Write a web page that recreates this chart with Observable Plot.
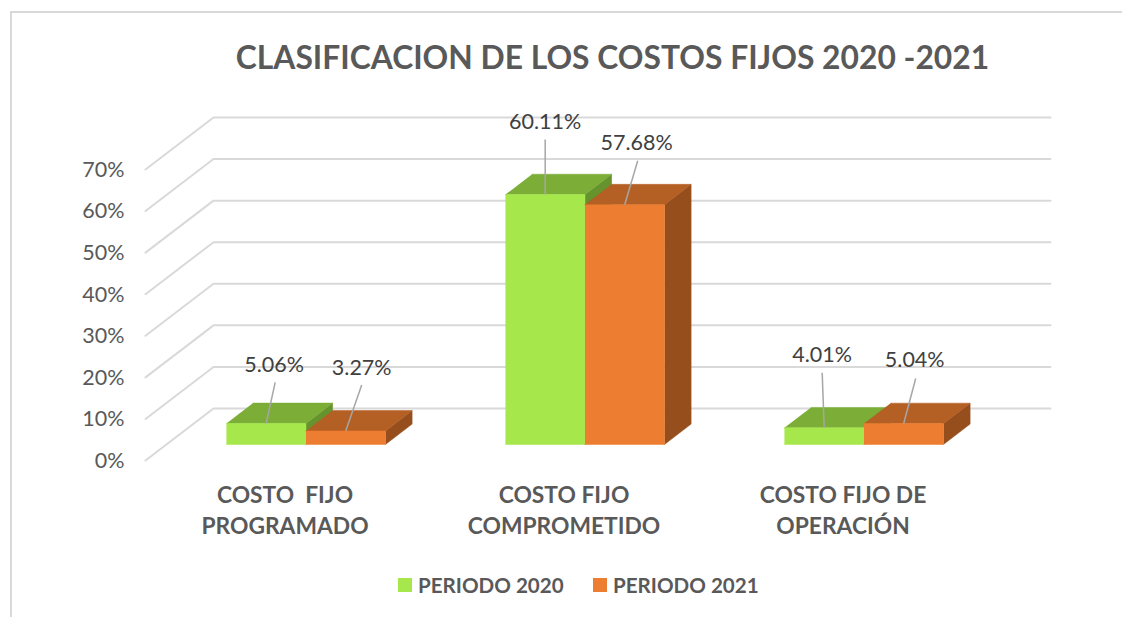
<!DOCTYPE html>
<html>
<head>
<meta charset="utf-8">
<script src="https://cdn.jsdelivr.net/npm/d3@7"></script>
<script src="https://cdn.jsdelivr.net/npm/@observablehq/plot@0.6"></script>
<style>
  html, body { margin: 0; padding: 0; background: #fff; overflow: hidden; }
  #page { position: relative; width: 1122px; height: 617px; font-family: Lato, "Open Sans", sans-serif; }
  #frame { position: absolute; left: 10px; top: 11px; width: 1112px; height: 606px; border-left: 2px solid #d9d9d9; border-top: 2px solid #d9d9d9; box-sizing: border-box; pointer-events: none; }
  #title { height: 100px; box-sizing: border-box; padding-top: 35px; padding-left: 103px; text-align: center; font-size: 31.8px; line-height: 44px; font-weight: 700; color: #595959; white-space: nowrap; }
  #chart svg { display: block; }
  #legend { height: 57px; position: relative; font-size: 20.6px; font-weight: 700; color: #595959; }
  #legend i { position: absolute; top: 18px; width: 14px; height: 14px; }
  #legend span { position: absolute; top: 12px; line-height: 26px; white-space: nowrap; }
</style>
</head>
<body>
<div id="page">
  <div id="frame"></div>
  <div id="title">CLASIFICACION DE LOS COSTOS FIJOS 2020 -2021</div>
  <div id="chart"></div>
  <div id="legend"></div>
</div>
<script>
// --- data
const categories = ["COSTO  FIJO\nPROGRAMADO", "COSTO FIJO\nCOMPROMETIDO", "COSTO FIJO DE\nOPERACIÓN"];
const periods = ["PERIODO 2020", "PERIODO 2021"];
const values2020 = [5.06, 60.11, 4.01];
const values2021 = [3.27, 57.68, 5.04];
const tickValues = [0, 10, 20, 30, 40, 50, 60, 70];

// --- styles
const faceColors = [
  {front: "#A6E84C", top: "#7BAD37", side: "#66932E"},
  {front: "#ED7D31", top: "#B45F24", side: "#964F1C"}
];
const legendColors = ["#A6E84C", "#ED7D31"];
const legendLayout = [[398, 418], [593, 613]];

// --- oblique projection expressed in data units
const pxX = 279, pxY = 4.157;
const depthX = 68 / pxX, depthY = 52 / pxY;
const project = (x, v, d) => ({x: x + d * depthX, y: v + d * depthY});
const barFront = 0.308, barBack = 0.70, barW = 0.285, groupStart = 0.215;

// label / leader offsets in pixels from the front-top middle of each bar
const leaderTips = [[[9,-41],[16,-46]], [[0,-55],[13,-44]], [[-2,-55],[12,-45]]];
const labelAt = [[[8,-58],[16,-63]], [[0,-72],[12,-62]], [[-2,-73],[11,-63]]];

const series = [values2020, values2021];
const polys = [], leaders = [], labels = [];
categories.forEach((_, i) => {
  series.forEach((vals, s) => {
    const v = vals[i], c = faceColors[s];
    const x0 = i + groupStart + s * barW, x1 = x0 + barW;
    const add = (face, fill, pts) => pts.forEach(p => polys.push({id: `${i}-${s}-${face}`, fill, ...project(...p)}));
    add("side", c.side, [[x1,0,barFront],[x1,0,barBack],[x1,v,barBack],[x1,v,barFront]]);
    add("top", c.top, [[x0,v,barFront],[x1,v,barFront],[x1,v,barBack],[x0,v,barBack]]);
    add("front", c.front, [[x0,0,barFront],[x1,0,barFront],[x1,v,barFront],[x0,v,barFront]]);
    const mid = project((x0 + x1) / 2, v, barFront);
    const [tx, ty] = leaderTips[i][s], [lx, ly] = labelAt[i][s];
    leaders.push({x1: mid.x, y1: mid.y, x2: mid.x + tx / pxX, y2: mid.y - ty / pxY});
    labels.push({x: mid.x + lx / pxX, y: mid.y - ly / pxY, text: v.toFixed(2) + "%"});
  });
});

// wall gridlines: front edge -> back corner -> back right
const grid = tickValues.flatMap(t => [
  {t, ...project(0, t, 0)},
  {t, ...project(0, t, 1)},
  {t, ...project(3, t, 1)}
]);

const plot = Plot.plot({
  width: 1122, height: 460,
  marginLeft: 145, marginRight: 140, marginTop: 69, marginBottom: 100,
  style: {background: "transparent", fontFamily: "Lato, 'Open Sans', sans-serif", overflow: "visible"},
  x: {domain: [0, 3], axis: null},
  y: {domain: [0, 70], label: null},
  marks: [
    Plot.line(grid, {x: "x", y: "y", z: "t", stroke: "#d9d9d9", strokeWidth: 2}),
    Plot.axisY({anchor: "left", ticks: tickValues, tickSize: 0, tickPadding: 21, label: null,
      tickFormat: d => d + "%", fontSize: 21.5, fill: "#595959", dy: 0.5}),
    Plot.line(polys, {x: "x", y: "y", z: "id", fill: "fill", stroke: "fill", strokeWidth: 0.5}),
    Plot.link(leaders, {x1: "x1", y1: "y1", x2: "x2", y2: "y2", stroke: "#a6a6a6", strokeWidth: 1.5}),
    Plot.text(labels, {x: "x", y: "y", text: "text", fontSize: 21.5, fill: "#404040"}),
    Plot.text(categories, {x: (_, i) => i + 0.5, y: () => -11.5, text: d => d, fontSize: 22.8, fontWeight: 700,
      fill: "#595959", lineHeight: 1.4, lineAnchor: "middle"})
  ]
});
document.getElementById("chart").append(plot);

const legend = document.getElementById("legend");
periods.forEach((p, i) => {
  const sw = document.createElement("i");
  sw.style.left = legendLayout[i][0] + "px";
  sw.style.background = legendColors[i];
  const t = document.createElement("span");
  t.style.left = legendLayout[i][1] + "px";
  t.textContent = p;
  legend.append(sw, t);
});
</script>
</body>
</html>
